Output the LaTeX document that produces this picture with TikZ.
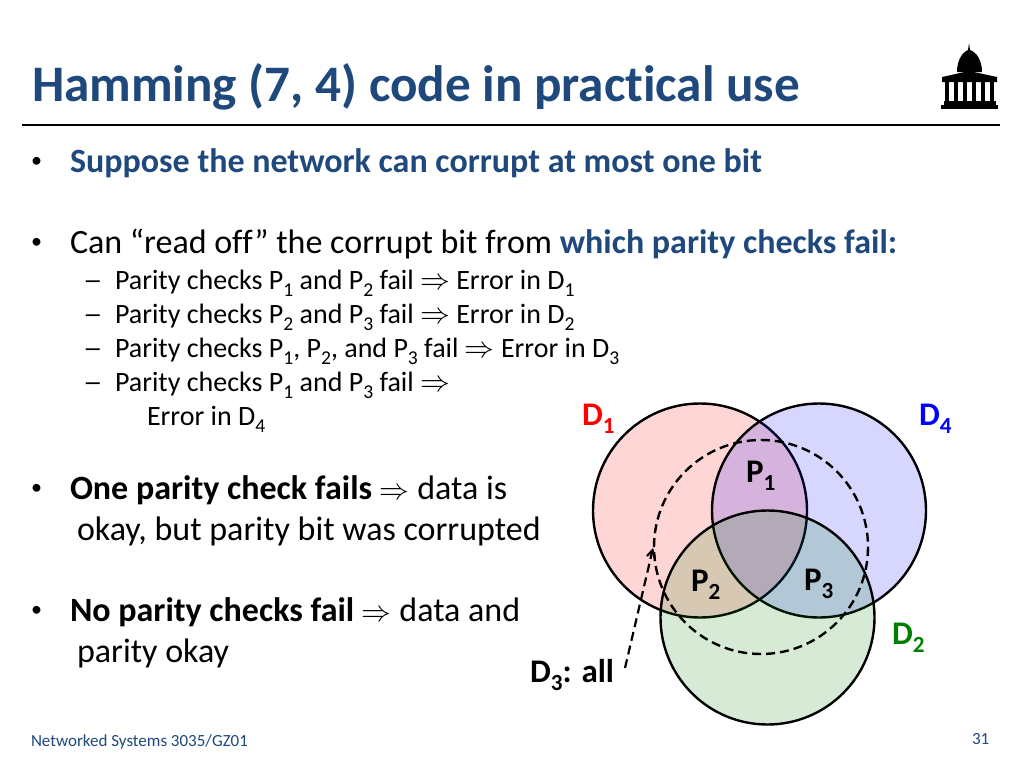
\documentclass[tikz,border=0pt]{standalone}
\usepackage{fontspec}
\usepackage{graphicx}
\setmainfont[Ligatures=CommonOff]{Carlito}
\usetikzlibrary{arrows}
\definecolor{titleblue}{RGB}{31,73,125}
\definecolor{dgreen}{RGB}{0,128,0}
\newcommand{\bitsub}[1]{\raisebox{-0.26em}{\scalebox{0.7}{#1}}}
\newcommand{\blt}{\raisebox{0.14em}{\scalebox{0.65}{•}}}
\newcommand{\impl}{\scalebox{1.2}{$\Rightarrow$}}
\newcommand{\dsh}{\scalebox{1.4}[1]{–}}
\tikzset{
  txt/.style = {anchor=base west, inner sep=0pt, outer sep=0pt},
  title/.style = {txt, font=\fontsize{51.2}{55}\selectfont\bfseries, text=titleblue},
  body/.style = {txt, font=\fontsize{34}{38}\selectfont},
  subbody/.style = {txt, font=\fontsize{28}{32}\selectfont},
  foot/.style = {txt, font=\fontsize{17}{19}\selectfont, text=titleblue},
  lbl/.style = {txt, font=\fontsize{33}{36}\selectfont\bfseries},
  setcircle/.style = {draw=black, line width=2.4pt, draw opacity=1, fill opacity=0.16},
}
\newcommand{\kw}[1]{{\bfseries\color{titleblue}#1}}
\begin{document}
\begin{tikzpicture}[x=1pt,y=-1pt,>=angle 60]
\useasboundingbox (0,0) rectangle (1024,768);
\fill[white] (0,0) rectangle (1024,768);
\node [title] (head) at (32,101) {Hamming (7, 4) code in practical use};
\draw [line width=2.2pt] (22,125) -- (1000,125);
% logo
\fill (969,43) -- (970,50) .. controls (978,53) and (982,62) .. (982,72) -- (957,72) .. controls (957,62) and (961,53) .. (968,50) -- cycle;
\fill (969,71) -- (997,77) -- (997,82) -- (942,82) -- (942,77) -- cycle;
\foreach \cx in {946.5,955.5,964.5,974,983,992} {
  \fill (\cx-2,82) rectangle (\cx+2,102);
}
\fill (944,101) rectangle (996,105);
\fill (941,105) rectangle (998,109);
% bullets
\node [body] (b1) at (31,172) {\blt};
\node [body] (t1) at (70,172) {\kw{Suppose the network can corrupt at most one bit}};
\node [body] (b2) at (31,253) {\blt};
\node [body] (t2) at (70,253) {Can “read off” the corrupt bit from \kw{which parity checks fail:}};
\node [subbody] (d1) at (83,289) {\dsh};
\node [subbody] (s1) at (115,289) {Parity checks P\bitsub{1} and P\bitsub{2} fail \impl{} Error in D\bitsub{1}};
\node [subbody] (d2) at (83,323) {\dsh};
\node [subbody] (s2) at (115,323) {Parity checks P\bitsub{2} and P\bitsub{3} fail \impl{} Error in D\bitsub{2}};
\node [subbody] (d3) at (83,357) {\dsh};
\node [subbody] (s3) at (115,357) {Parity checks P\bitsub{1}, P\bitsub{2}, and P\bitsub{3} fail \impl{} Error in D\bitsub{3}};
\node [subbody] (d4) at (83,391) {\dsh};
\node [subbody] (s4) at (115,391) {Parity checks P\bitsub{1} and P\bitsub{3} fail \impl};
\node [subbody] (s5) at (147,425) {Error in D\bitsub{4}};
\node [body] (b3) at (31,499) {\blt};
\node [body] (t3) at (70,499) {\textbf{One parity check fails} \impl{} data is};
\node [body] (t4) at (77,540) {okay, but parity bit was corrupted};
\node [body] (b4) at (31,621) {\blt};
\node [body] (t5) at (70,621) {\textbf{No parity checks fail} \impl{} data and};
\node [body] (t6) at (77,662) {parity okay};
% venn
\filldraw [setcircle, fill=red] (700,510.5) circle (107);
\filldraw [setcircle, fill=blue] (819,510.5) circle (107);
\filldraw [setcircle, fill=dgreen] (767.5,617.5) circle (107);
\draw [line width=2.4pt, dash pattern=on 9pt off 5pt] (761,547) circle (107);
\node [lbl, text=red] (D1) at (582,425) {D\bitsub{1}};
\node [lbl, text=blue] (D4) at (919,425) {D\bitsub{4}};
\node [lbl, text=dgreen] (D2) at (892,644) {D\bitsub{2}};
\node [lbl] (P1) at (746,482) {P\bitsub{1}};
\node [lbl] (P2) at (691,591) {P\bitsub{2}};
\node [lbl] (P3) at (804,590) {P\bitsub{3}};
\node [lbl] (D3) at (530,682) {D\bitsub{3}: all};
\coordinate (from) at (625,668);
\coordinate (tip) at (653,548);
\draw [->, line width=2.2pt, dash pattern=on 9pt off 5pt] (from) -- (tip);
\node [foot] (f1) at (31,746) {Networked Systems 3035/GZ01};
\node [foot] (f2) at (972,744) {31};
\end{tikzpicture}
\end{document}
